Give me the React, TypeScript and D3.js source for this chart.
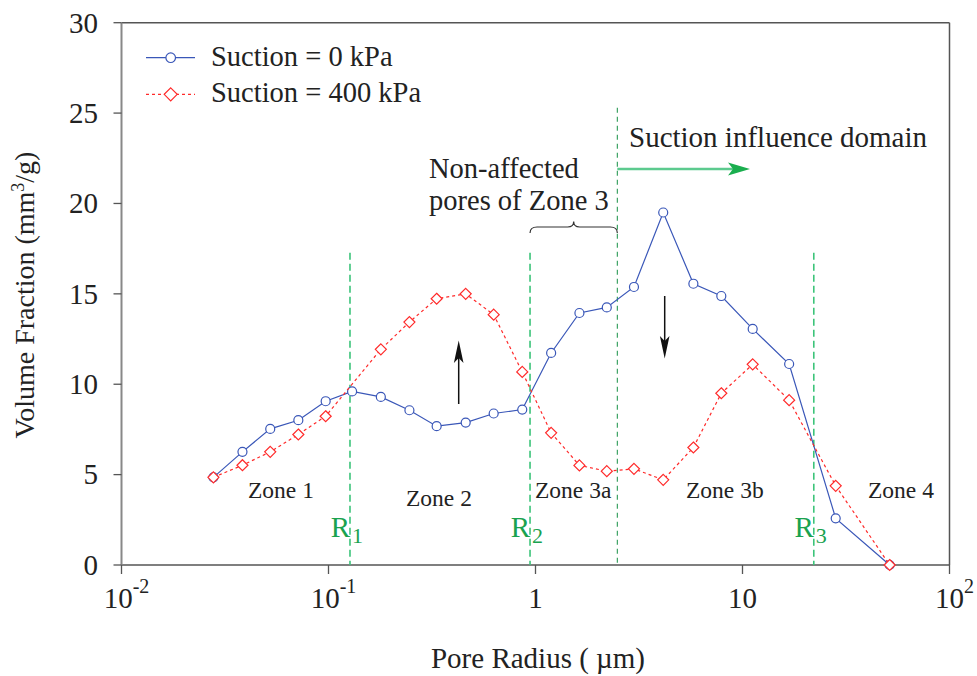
import React from "react";
import * as d3 from "d3";

// Pore radius (µm) of each measurement, shared by both curves
const poreRadius = [
  0.0278, 0.0384, 0.0523, 0.0715, 0.0969, 0.13, 0.179, 0.246, 0.333, 0.46, 0.628, 0.863,
  1.19, 1.63, 2.21, 2.99, 4.14, 5.79, 7.9, 11.2, 16.8, 28.2, 51.4,
];
// Volume fraction (mm³/g) at suction = 0 kPa
const suction0 = [
  4.85, 6.26, 7.53, 8.01, 9.06, 9.6, 9.3, 8.56, 7.68, 7.88, 8.38, 8.6, 11.73, 13.94, 14.25,
  15.38, 19.5, 15.56, 14.88, 13.06, 11.12, 2.58, 0,
];
// Volume fraction (mm³/g) at suction = 400 kPa (no reading at 0.13 µm)
const suction400: (number | null)[] = [
  4.85, 5.52, 6.26, 7.22, 8.23, null, 11.93, 13.44, 14.73, 15.0, 13.85, 10.68, 7.31, 5.51,
  5.19, 5.32, 4.71, 6.5, 9.5, 11.1, 9.12, 4.38, 0,
];

const seriesNames = ["Suction = 0 kPa", "Suction = 400 kPa"];
const xTickValues = [0.01, 0.1, 1, 10, 100];
const xTickBase = ["10", "10", "1", "10", "10"];
const xTickExp = ["-2", "-1", "", "", "2"];
const yTickValues = [0, 5, 10, 15, 20, 25, 30];

// Zone boundary radii (µm)
const boundaryNames = ["1", "2", "3"];
const boundaryRadius = [0.127, 0.941, 22.1];
const dividerRadius = 2.485;
const zoneNames = ["Zone 1", "Zone 2", "Zone 3a", "Zone 3b", "Zone 4"];

const W = 977;
const H = 676;
const FONT = "'Liberation Serif', 'Times New Roman', Times, serif";

const BLUE = "#3a57b8";
const RED = "#ff2a2a";

export default function App() {
  const x = d3.scaleLog().domain([0.01, 100]).range([121.5, 949.5]);
  const y = d3.scaleLinear().domain([0, 30]).range([565, 22.7]);

  const pts0 = poreRadius.map((r, i) => [r, suction0[i]] as [number, number]);
  const pts400 = poreRadius
    .map((r, i) => [r, suction400[i]] as [number, number | null])
    .filter((d) => d[1] !== null) as [number, number][];

  const line = d3
    .line<[number, number]>()
    .x((d) => x(d[0]))
    .y((d) => y(d[1]));

  const diamond = (cx: number, cy: number, s: number) =>
    `M${cx},${cy - s}L${cx + s},${cy}L${cx},${cy + s}L${cx - s},${cy}Z`;

  const left = x.range()[0];
  const right = x.range()[1];
  const bottom = y(0);
  const top = y(30);

  const divX = x(dividerRadius);
  const r2X = x(boundaryRadius[1]);
  const braceMid = (r2X + divX) / 2;

  // zone label anchor positions (left x, baseline y)
  const zonePos: [number, number][] = [
    [248, 498],
    [406, 506],
    [535, 498],
    [686, 498],
    [868, 498],
  ];

  return (
    <svg
      width={W}
      height={H}
      style={{ position: "absolute", left: 0, top: 0, background: "#fff" }}
      fontFamily={FONT}
    >
      <rect x={0} y={0} width={W} height={H} fill="#fff" />

      {/* frame */}
      <line x1={left} x2={right} y1={top} y2={top} stroke="#555" strokeWidth={1.5} />
      <line x1={right} x2={right} y1={top} y2={bottom} stroke="#555" strokeWidth={1.5} />
      <line x1={left} x2={right} y1={bottom} y2={bottom} stroke="#555" strokeWidth={1.5} />
      <line x1={left} x2={left} y1={top} y2={bottom} stroke="#888" strokeWidth={2} />

      {/* y ticks */}
      {yTickValues.map((v) => (
        <g key={"y" + v}>
          <line x1={left - 8} x2={left} y1={y(v)} y2={y(v)} stroke="#555" strokeWidth={1.3} />
          <text x={98} y={y(v)} dy="0.34em" textAnchor="end" fontSize={29} fill="#222">
            {v}
          </text>
        </g>
      ))}

      {/* x ticks */}
      {xTickValues.map((v, i) => (
        <g key={"x" + v}>
          <line x1={x(v)} x2={x(v)} y1={bottom} y2={bottom + 9} stroke="#555" strokeWidth={1.3} />
          <text
            x={x(v) + (xTickExp[i] ? 5 : 0)}
            y={608}
            textAnchor="middle"
            fontSize={29}
            fill="#222"
          >
            {xTickBase[i]}
            {xTickExp[i] && (
              <tspan dy={-15} fontSize={20}>
                {xTickExp[i]}
              </tspan>
            )}
          </text>
        </g>
      ))}

      {/* axis titles */}
      <text x={538} y={668} textAnchor="middle" fontSize={29} fill="#222">
        Pore Radius ( µm)
      </text>
      <text
        transform="translate(34,295) rotate(-90)"
        textAnchor="middle"
        fontSize={28}
        fill="#222"
      >
        Volume Fraction (mm
        <tspan dy={-10} fontSize={18}>
          3
        </tspan>
        <tspan dy={10}>/g)</tspan>
      </text>

      {/* zone boundaries */}
      {boundaryRadius.map((r, i) => (
        <g key={"b" + i}>
          <line
            x1={x(r)}
            x2={x(r)}
            y1={y(17.28)}
            y2={bottom}
            stroke="#3cc47a"
            strokeWidth={1.6}
            strokeDasharray="7 4"
          />
          <text x={x(r)} y={537} textAnchor="end" fontSize={29} fill="#1aa24f">
            R
          </text>
          <text x={x(r) + 2} y={543} fontSize={22} fill="#1aa24f">
            {boundaryNames[i]}
          </text>
        </g>
      ))}
      <line
        x1={divX}
        x2={divX}
        y1={y(25.3)}
        y2={bottom}
        stroke="#2a9a55"
        strokeWidth={1.1}
        strokeDasharray="5 4"
      />

      {/* zone labels */}
      {zoneNames.map((z, i) => (
        <text key={z} x={zonePos[i][0]} y={zonePos[i][1]} fontSize={23.5} fill="#222">
          {z}
        </text>
      ))}

      {/* annotations */}
      <text x={429} y={178} fontSize={28.5} fill="#222">
        Non-affected
      </text>
      <text x={429} y={209.5} fontSize={28.5} fill="#222">
        pores of Zone 3
      </text>
      <path
        d={`M${r2X},233 Q${r2X},227 ${r2X + 7},227 L${braceMid - 6},227 Q${braceMid},227 ${braceMid},221.5 Q${braceMid},227 ${braceMid + 6},227 L${divX - 7},227 Q${divX},227 ${divX},233`}
        fill="none"
        stroke="#333"
        strokeWidth={1.2}
      />
      <text x={629} y={147} fontSize={29} fill="#222">
        Suction influence domain
      </text>
      <line x1={divX} x2={735} y1={169} y2={169} stroke="#5cca8e" strokeWidth={2.5} />
      <path d="M750,169 L728,162.5 L733,169 L728,175.5 Z" fill="#1aae4e" />

      {/* change arrows */}
      <line x1={458.7} x2={458.7} y1={404} y2={356} stroke="#111" strokeWidth={1.5} />
      <path d="M458.7,340.5 L463.5,363 L458.7,358 L453.9,363 Z" fill="#111" />
      <line x1={664.7} x2={664.7} y1={296} y2={343} stroke="#111" strokeWidth={1.5} />
      <path d="M664.7,358.5 L669.5,336 L664.7,341 L659.9,336 Z" fill="#111" />

      {/* suction = 0 kPa */}
      <path d={line(pts0) ?? ""} fill="none" stroke={BLUE} strokeWidth={1.2} />
      {pts0.map((d, i) => (
        <circle
          key={"c" + i}
          cx={x(d[0])}
          cy={y(d[1])}
          r={4.5}
          fill="#fff"
          stroke={BLUE}
          strokeWidth={1.2}
        />
      ))}

      {/* suction = 400 kPa */}
      <path
        d={line(pts400) ?? ""}
        fill="none"
        stroke={RED}
        strokeWidth={1.2}
        strokeDasharray="3 3"
      />
      {pts400.map((d, i) => (
        <path
          key={"d" + i}
          d={diamond(x(d[0]), y(d[1]), 5.5)}
          fill="#fff"
          stroke={RED}
          strokeWidth={1.2}
        />
      ))}

      {/* legend */}
      <line x1={146} x2={195} y1={57.7} y2={57.7} stroke={BLUE} strokeWidth={1.2} />
      <circle cx={170.7} cy={57.7} r={4.8} fill="#fff" stroke={BLUE} strokeWidth={1.2} />
      <text x={211} y={66} fontSize={28.5} fill="#222">
        {seriesNames[0]}
      </text>
      <line
        x1={146}
        x2={195}
        y1={94.3}
        y2={94.3}
        stroke={RED}
        strokeWidth={1.2}
        strokeDasharray="3 3"
      />
      <path d={diamond(170.7, 94.3, 6.5)} fill="#fff" stroke={RED} strokeWidth={1.2} />
      <text x={211} y={102} fontSize={28.5} fill="#222">
        {seriesNames[1]}
      </text>
    </svg>
  );
}
